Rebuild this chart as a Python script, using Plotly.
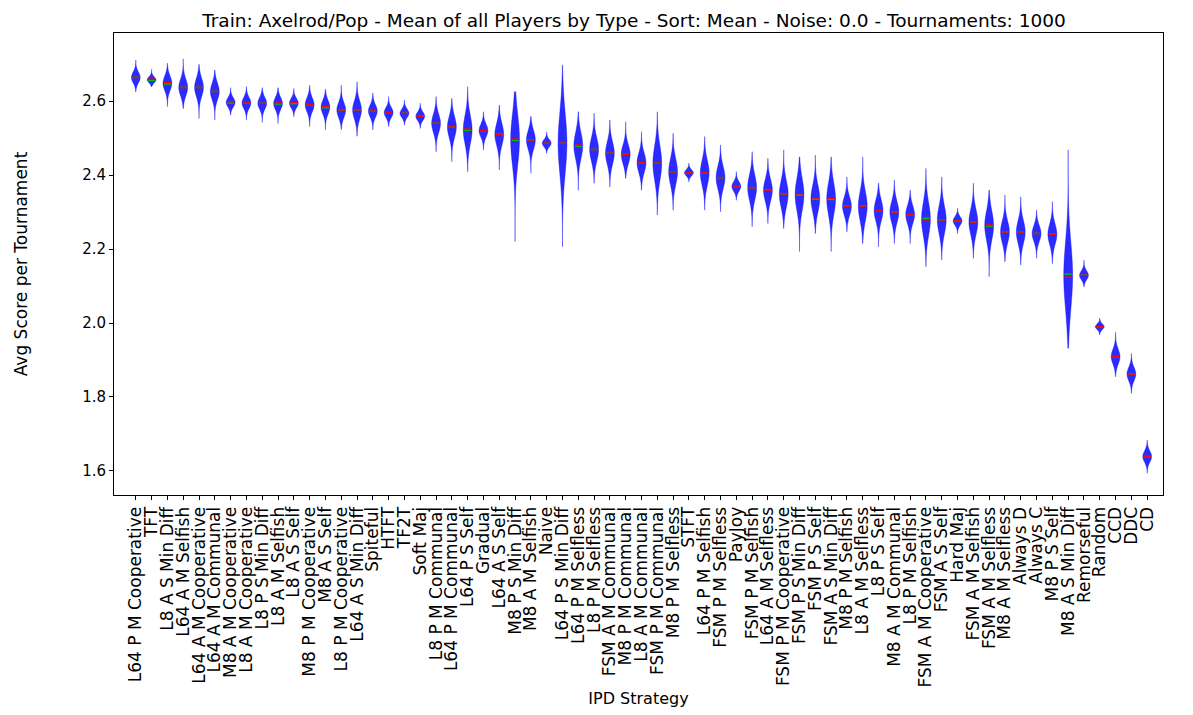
import plotly.graph_objects as go

labels = [
    "L64 P M Cooperative", "TFT", "L8 A S Min Diff", "L64 A M Selfish", "L64 A M Cooperative",
    "L64 A M Communal", "M8 A M Cooperative", "L8 A M Cooperative", "L8 P S Min Diff", "L8 A M Selfish",
    "L8 A S Self", "M8 P M Cooperative", "M8 A S Self", "L8 P M Cooperative", "L64 A S Min Diff",
    "Spiteful", "HTFT", "TF2T", "Soft Maj", "L8 P M Communal",
    "L64 P M Communal", "L64 P S Self", "Gradual", "L64 A S Self", "M8 P S Min Diff",
    "M8 A M Selfish", "Naive", "L64 P S Min Diff", "L64 P M Selfless", "L8 P M Selfless",
    "FSM A M Communal", "M8 P M Communal", "L8 A M Communal", "FSM P M Communal", "M8 P M Selfless",
    "STFT", "L64 P M Selfish", "FSM P M Selfless", "PayJoy", "FSM P M Selfish",
    "L64 A M Selfless", "FSM P M Cooperative", "FSM P S Min Diff", "FSM P S Self", "FSM A S Min Diff",
    "M8 P M Selfish", "L8 A M Selfless", "L8 P S Self", "M8 A M Communal", "L8 P M Selfish",
    "FSM A M Cooperative", "FSM A S Self", "Hard Maj", "FSM A M Selfish", "FSM A M Selfless",
    "M8 A M Selfless", "Always D", "Always C", "M8 P S Self", "M8 A S Min Diff",
    "Remorseful", "Random", "CCD", "DDC", "CD",
]

means = [
    2.664, 2.659, 2.650, 2.637, 2.637, 2.626, 2.598, 2.595, 2.594, 2.595,
    2.596, 2.590, 2.585, 2.576, 2.576, 2.573, 2.569, 2.567, 2.559, 2.540,
    2.530, 2.524, 2.520, 2.510, 2.497, 2.495, 2.486, 2.486, 2.481, 2.469,
    2.459, 2.456, 2.433, 2.432, 2.409, 2.406, 2.406, 2.393, 2.369, 2.366,
    2.359, 2.349, 2.349, 2.338, 2.337, 2.316, 2.316, 2.304, 2.300, 2.293,
    2.279, 2.279, 2.276, 2.273, 2.265, 2.246, 2.246, 2.242, 2.240, 2.124,
    2.129, 1.990, 1.909, 1.862, 1.639,
]

medians = [
    2.664, 2.656, 2.646, 2.637, 2.637, 2.626, 2.595, 2.595, 2.594, 2.592,
    2.593, 2.590, 2.582, 2.576, 2.576, 2.573, 2.569, 2.567, 2.559, 2.540,
    2.530, 2.521, 2.520, 2.510, 2.494, 2.495, 2.486, 2.486, 2.478, 2.469,
    2.459, 2.456, 2.433, 2.432, 2.409, 2.406, 2.406, 2.393, 2.369, 2.366,
    2.359, 2.349, 2.346, 2.335, 2.334, 2.316, 2.316, 2.304, 2.300, 2.293,
    2.283, 2.279, 2.276, 2.273, 2.262, 2.246, 2.246, 2.242, 2.240, 2.132,
    2.129, 1.990, 1.909, 1.862, 1.639,
]

lows = [
    2.625, 2.639, 2.585, 2.580, 2.553, 2.549, 2.562, 2.549, 2.542, 2.539,
    2.558, 2.531, 2.522, 2.523, 2.505, 2.522, 2.531, 2.535, 2.526, 2.463,
    2.436, 2.409, 2.468, 2.414, 2.220, 2.405, 2.459, 2.206, 2.359, 2.378,
    2.368, 2.391, 2.359, 2.292, 2.305, 2.382, 2.305, 2.301, 2.332, 2.260,
    2.269, 2.256, 2.193, 2.242, 2.193, 2.247, 2.215, 2.206, 2.215, 2.215,
    2.152, 2.170, 2.242, 2.175, 2.125, 2.166, 2.157, 2.175, 2.161, 1.932,
    2.098, 1.968, 1.855, 1.810, 1.594,
]

highs = [
    2.711, 2.686, 2.702, 2.714, 2.699, 2.684, 2.636, 2.639, 2.636, 2.636,
    2.634, 2.643, 2.632, 2.643, 2.652, 2.622, 2.612, 2.603, 2.594, 2.612,
    2.607, 2.639, 2.571, 2.589, 2.625, 2.558, 2.517, 2.697, 2.571, 2.567,
    2.549, 2.544, 2.517, 2.571, 2.513, 2.432, 2.504, 2.481, 2.409, 2.463,
    2.445, 2.468, 2.449, 2.454, 2.449, 2.395, 2.449, 2.378, 2.386, 2.359,
    2.418, 2.395, 2.310, 2.378, 2.359, 2.346, 2.341, 2.305, 2.328, 2.468,
    2.170, 2.013, 1.975, 1.918, 1.684,
]

yticks = [1.6, 1.8, 2.0, 2.2, 2.4, 2.6]

positions = list(range(len(labels)))

fig = go.Figure()

for i, name in enumerate(labels):
    bw = (highs[i] - lows[i]) / 6.0
    fig.add_trace(go.Violin(
        x=[positions[i], positions[i]],
        y=[means[i], medians[i]],
        name=name,
        bandwidth=bw,
        spanmode="manual",
        span=[lows[i], highs[i]],
        width=0.56,
        scalemode="width",
        points=False,
        box_visible=False,
        meanline_visible=False,
        fillcolor="rgba(25,25,255,0.92)",
        line=dict(color="rgba(0,0,255,0.35)", width=1),
        hoverinfo="skip",
        showlegend=False,
    ))

fig.add_trace(go.Scatter(
    x=positions, y=medians, mode="markers",
    marker=dict(symbol="line-ew", size=5, line=dict(color="#00c000", width=1.5)),
    showlegend=False, hoverinfo="skip",
))
fig.add_trace(go.Scatter(
    x=positions, y=means, mode="markers",
    marker=dict(symbol="line-ew", size=5, line=dict(color="red", width=1.5)),
    showlegend=False, hoverinfo="skip",
))

fig.update_layout(
    width=1193, height=715,
    margin=dict(l=97, r=38, t=25, b=228),
    plot_bgcolor="white", paper_bgcolor="white",
    font=dict(family="DejaVu Sans", size=15, color="black"),
    violinmode="overlay",
    title=dict(
        text="Train: Axelrod/Pop - Mean of all Players by Type - Sort: Mean - Noise: 0.0 - Tournaments: 1000",
        x=0.5247, xanchor="center", y=0.982, yanchor="middle",
        pad=dict(t=0, b=0),
        font=dict(size=18.5),
    ),
    xaxis=dict(
        range=[-1.38, 65.0],
        tickmode="array", tickvals=positions, ticktext=labels,
        tickangle=-90, ticks="outside", ticklen=4, tickcolor="black",
        showline=True, linecolor="black", linewidth=1, mirror=True,
        showgrid=False, zeroline=False,
        tickfont=dict(size=17),
        title=dict(text="IPD Strategy", font=dict(size=16), standoff=6),
    ),
    yaxis=dict(
        range=[1.535, 2.784],
        tickmode="array", tickvals=yticks, ticktext=[f"{v:.1f}" for v in yticks],
        ticks="outside", ticklen=4, tickcolor="black",
        showline=True, linecolor="black", linewidth=1, mirror=True,
        showgrid=False, zeroline=False,
        tickfont=dict(size=15),
        title=dict(text="Avg Score per Tournament", font=dict(size=17), standoff=50),
    ),
)

fig.write_html("out.html")
